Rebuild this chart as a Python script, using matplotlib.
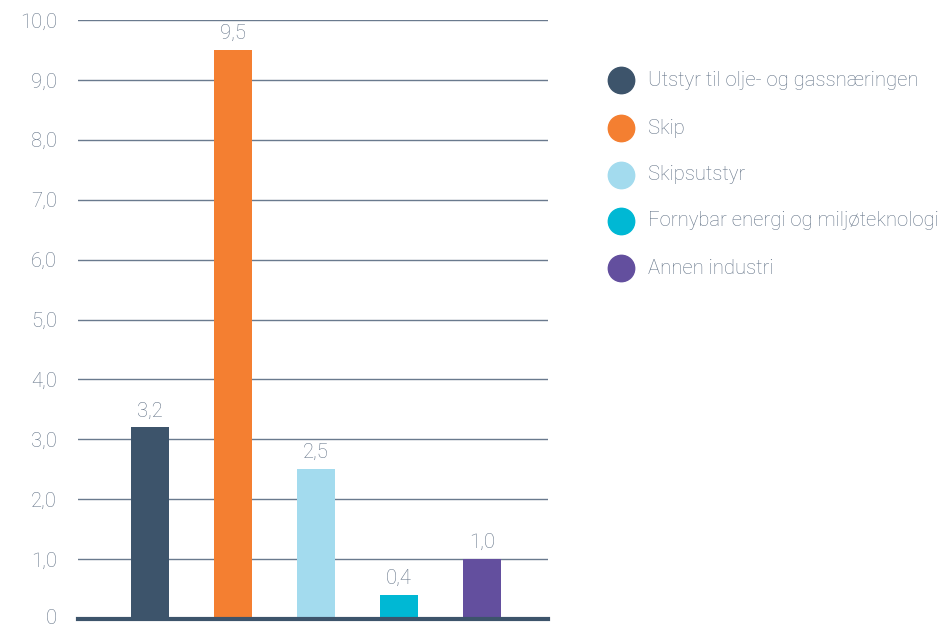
import matplotlib.pyplot as plt
from matplotlib.lines import Line2D
from matplotlib.transforms import ScaledTranslation

categories = ["Utstyr til olje- og gassnæringen", "Skip", "Skipsutstyr",
              "Fornybar energi og miljøteknologi", "Annen industri"]
values = [3.2, 9.5, 2.5, 0.4, 1.0]
colors = ["#3d546b", "#f47f31", "#a3dbee", "#00b8d4", "#634f9e"]
yticks = [0, 1, 2, 3, 4, 5, 6, 7, 8, 9, 10]
ytick_labels = ["0", "1,0", "2,0", "3,0", "4,0", "5,0", "6,0", "7,0", "8,0", "9,0", "10,0"]

text_color = "#637387"
plt.rcParams["font.family"] = ["Roboto", "DejaVu Sans"]
fsize = 14.6

W, H = 941, 626
fig = plt.figure(figsize=(W / 100, H / 100), dpi=100)
ax = fig.add_axes([78 / W, 7 / H, 470 / W, 599 / H])

x = range(len(values))
ax.bar(x, values, width=0.458, color=colors, zorder=3)

for xi, v in zip(x, values):
    ax.annotate(f"{v:.1f}".replace(".", ","), (xi, v), xytext=(0, 5),
                textcoords="offset points", ha="center", va="bottom",
                fontsize=fsize, color=text_color, fontweight="light")

ax.set_xlim(-0.867, 4.795)
ax.set_ylim(0, 10)
ax.set_yticks(yticks)
ax.set_yticklabels(ytick_labels)
ax.set_xticks([])
ax.tick_params(axis="y", length=0, pad=15, labelsize=fsize, labelcolor=text_color)
for lbl in ax.get_yticklabels():
    lbl.set_fontweight("light")
# nudge the "0" label up a little so it stays inside the figure
zero_lbl = ax.get_yticklabels()[0]
zero_lbl.set_transform(zero_lbl.get_transform()
                       + ScaledTranslation(0, 3 / 100, fig.dpi_scale_trans))
ax.grid(axis="y", color="#6a7a8e", linewidth=1.0, zorder=0)
for side in ["top", "right", "left"]:
    ax.spines[side].set_visible(False)
ax.spines["bottom"].set_color("#3d546b")
ax.spines["bottom"].set_linewidth(3)
ax.spines["bottom"].set_zorder(4)

# legend drawn by hand in figure coordinates
row_y = [80, 128, 175, 221, 268]
for c, label, ry in zip(colors, categories, row_y):
    fig.add_artist(Line2D([621 / W], [1 - ry / H], transform=fig.transFigure,
                          marker="o", markersize=19, linestyle="none",
                          markerfacecolor=c, markeredgecolor=c))
    fig.text(648 / W, 1 - ry / H, label, ha="left", va="center",
             fontsize=fsize, color=text_color, fontweight="light")

fig.savefig("out.png", dpi=100)
